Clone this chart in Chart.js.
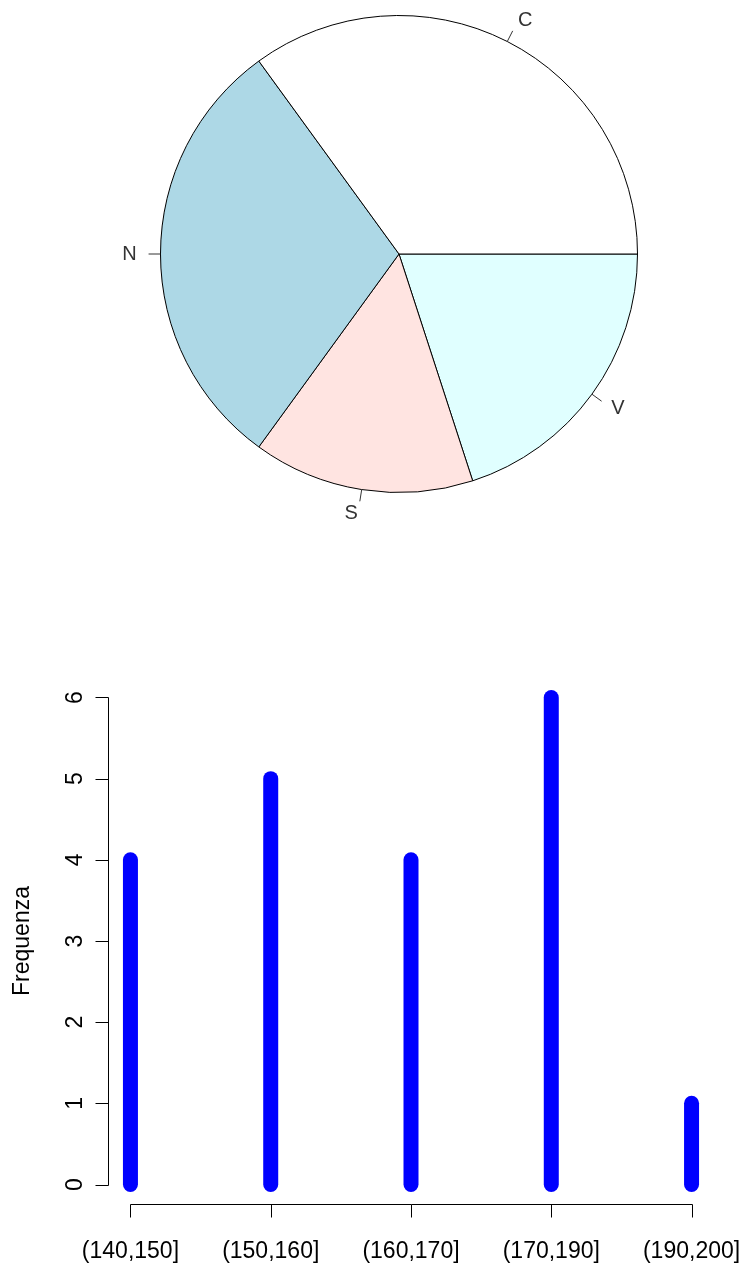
<!DOCTYPE html>
<html>
<head>
<meta charset="utf-8">
<script src="https://cdn.jsdelivr.net/npm/chart.js@4.4.0/dist/chart.umd.min.js"></script>
<style>
html,body{margin:0;padding:0;background:#fff;}
#wrapPie{position:absolute;left:0;top:0;width:745px;height:560px;}
#wrapBar{position:absolute;left:0;top:560px;width:745px;height:704px;}
</style>
</head>
<body>
<div id="wrapPie"><canvas id="pieChart"></canvas></div>
<div id="wrapBar"><canvas id="barChart"></canvas></div>
<script>
// ===== data =====
const zone = ['C', 'N', 'S', 'V'];
const zoneCount = [7, 6, 3, 4];
const zoneColor = ['#FFFFFF', '#ADD8E6', '#FFE4E1', '#E0FFFF'];

const classes = ['(140,150]', '(150,160]', '(160,170]', '(170,190]', '(190,200]'];
const freq = [4, 5, 4, 6, 1];
const yTicks = [0, 1, 2, 3, 4, 5, 6];
const yTitle = 'Frequenza';

const FONT = '"Liberation Sans", Arial, sans-serif';
const TICK = 13;
Chart.defaults.font.family = FONT;
Chart.defaults.animation = false;

// ===== pie (R draws counter-clockwise from 3 o'clock, so reverse) =====
const pieLabels = {id:'pieLabels', afterDatasetsDraw(c){
  const {ctx} = c;
  ctx.save();
  ctx.strokeStyle = '#333'; ctx.fillStyle = '#333'; ctx.lineWidth = 1;
  ctx.font = '20px ' + FONT; ctx.textBaseline = 'middle';
  c.getDatasetMeta(0).data.forEach((a, i) => {
    const m = (a.startAngle + a.endAngle) / 2, r = a.outerRadius, cs = Math.cos(m), sn = Math.sin(m);
    ctx.beginPath();
    ctx.moveTo(a.x + cs*r, a.y + sn*r);
    ctx.lineTo(a.x + cs*r*1.05, a.y + sn*r*1.05);
    ctx.stroke();
    ctx.textAlign = cs < 0 ? 'right' : 'left';
    ctx.fillText(c.data.labels[i], a.x + cs*r*1.1, a.y + sn*r*1.1);
  });
  ctx.restore();
}};

new Chart(document.getElementById('pieChart'), {
  type: 'pie',
  data: {
    labels: zone.slice().reverse(),
    datasets: [{
      data: zoneCount.slice().reverse(),
      backgroundColor: zoneColor.slice().reverse(),
      borderColor: '#000', borderWidth: 1
    }]
  },
  options: {
    responsive: true, maintainAspectRatio: false, rotation: 90, events: [],
    layout: {padding: {left: 160, right: 107, top: 15, bottom: 67}},
    plugins: {legend: {display: false}, tooltip: {enabled: false}}
  },
  plugins: [pieLabels]
});

// ===== frequency plot (type "h") =====
const rAxes = {id:'rAxes', afterDraw(c){
  const {ctx, chartArea: a, scales: {x, y}} = c;
  const px = v => Math.round(x.getPixelForValue(v)) + 0.5;
  const py = v => Math.round(y.getPixelForValue(v)) + 0.5;
  const L = Math.round(a.left) + 0.5, B = Math.round(a.bottom) + 0.5;
  ctx.save();
  ctx.strokeStyle = '#000'; ctx.fillStyle = '#000'; ctx.lineWidth = 1;
  ctx.beginPath();
  ctx.moveTo(L, py(yTicks[0])); ctx.lineTo(L, py(yTicks[yTicks.length-1]));
  yTicks.forEach(v => { ctx.moveTo(L, py(v)); ctx.lineTo(L - TICK, py(v)); });
  ctx.moveTo(px(1), B); ctx.lineTo(px(classes.length), B);
  classes.forEach((_, i) => { ctx.moveTo(px(i+1), B); ctx.lineTo(px(i+1), B + TICK); });
  ctx.stroke();

  ctx.font = '23px ' + FONT;
  ctx.textAlign = 'center'; ctx.textBaseline = 'alphabetic';
  classes.forEach((t, i) => ctx.fillText(t, x.getPixelForValue(i+1), a.bottom + 54));
  yTicks.forEach(v => {
    ctx.save(); ctx.translate(a.left - 26, y.getPixelForValue(v)); ctx.rotate(-Math.PI/2);
    ctx.fillText(String(v), 0, 0); ctx.restore();
  });
  ctx.save(); ctx.translate(29, (a.top + a.bottom)/2); ctx.rotate(-Math.PI/2);
  ctx.fillText(yTitle, 0, 0); ctx.restore();
  ctx.restore();
}};

new Chart(document.getElementById('barChart'), {
  type: 'line',
  data: {
    datasets: classes.map((t, i) => ({
      label: t,
      data: [{x: i+1, y: 0}, {x: i+1, y: freq[i]}],
      borderColor: '#0000FF', borderWidth: 15, borderCapStyle: 'round',
      pointRadius: 0, clip: false
    }))
  },
  options: {
    responsive: true, maintainAspectRatio: false, events: [],
    layout: {padding: {left: 108, right: 31, top: 118, bottom: 60}},
    plugins: {legend: {display: false}, tooltip: {enabled: false}},
    scales: {
      x: {type: 'linear', display: false, min: 0.84, max: classes.length + 0.16},
      y: {type: 'linear', display: false, min: -0.24, max: 6.24}
    }
  },
  plugins: [rAxes]
});
</script>
</body>
</html>
